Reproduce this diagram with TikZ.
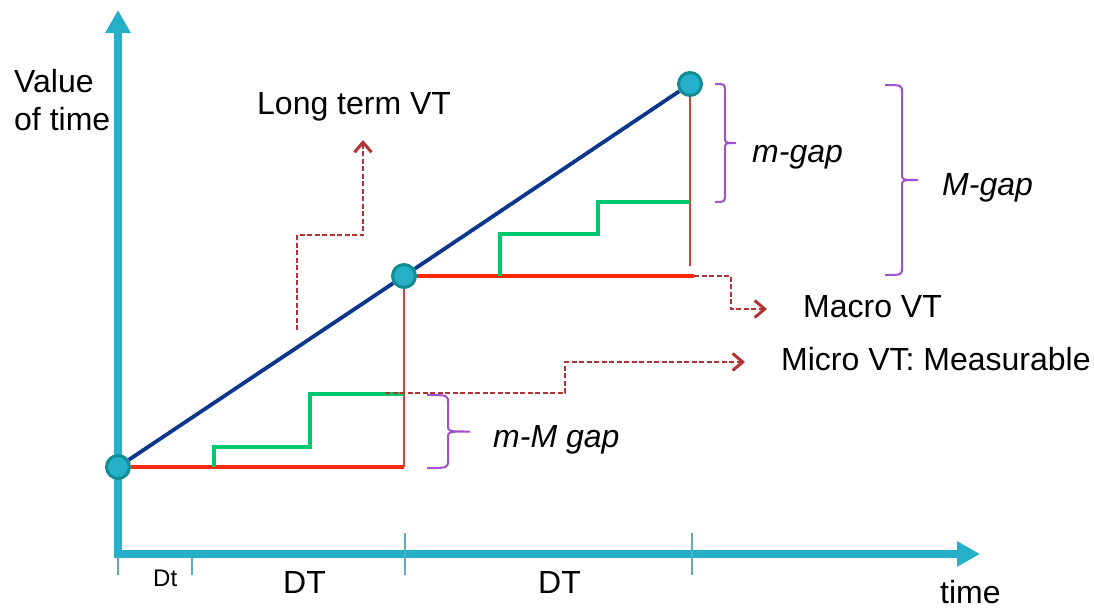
\documentclass[tikz,border=0pt]{standalone}
\usepackage{fontspec}
\setmainfont{Liberation Sans}
\usetikzlibrary{arrows.meta,calc}
\definecolor{axcol}{RGB}{37,175,200}
\definecolor{tickcol}{RGB}{95,170,190}
\definecolor{dotcol}{RGB}{35,176,200}
\definecolor{dotrim}{RGB}{20,140,150}
\definecolor{ltcol}{RGB}{10,55,140}
\definecolor{macol}{RGB}{255,40,10}
\definecolor{dropcol}{RGB}{205,70,50}
\definecolor{micol}{RGB}{0,200,110}
\definecolor{ptrcol}{RGB}{180,50,50}
\definecolor{gapcol}{RGB}{160,80,200}
\newcommand{\gapbrace}[5]{%
  \pgfmathsetmacro{\gbmid}{(#4+#5)/2}
  \draw[gap] (#1,#4) .. controls (#2,#4) .. ({#2},{#4+8}) -- ({#2},{\gbmid-6})
    .. controls (#2,\gbmid) .. (#3,\gbmid) .. controls (#2,\gbmid) .. ({#2},{\gbmid+6})
    -- ({#2},{#5-8}) .. controls (#2,#5) .. (#1,#5);}
\tikzset{
  axis/.style={line width=8pt, axcol, {Triangle[length=23pt,width=24pt]}-{Triangle[length=23pt,width=24pt]}},
  tickmark/.style={tickcol, line width=2pt},
  dot/.style={circle, fill=dotcol, draw=dotrim, line width=3pt, minimum size=23pt, inner sep=0pt},
  longvt/.style={ltcol, line width=3.8pt},
  macro/.style={macol, line width=4pt},
  dropline/.style={dropcol, line width=2pt},
  micro/.style={micol, line width=3.5pt},
  pointer/.style={ptrcol, line width=2.2pt, dash pattern=on 5pt off 2.5pt, -{Straight Barb[length=10pt,width=17pt,line width=3pt]}},
  gap/.style={gapcol, line width=2pt},
  lbl/.style={font=\fontsize{32}{38}\selectfont, inner sep=0pt, anchor=base west},
  ilbl/.style={lbl, font=\fontsize{32}{38}\selectfont\itshape},
}
\begin{document}
\begin{tikzpicture}[x=1pt, y=-1pt]
  \useasboundingbox (0,0) rectangle (1094,608);
  % axes
  \coordinate (O) at (118,554);
  \coordinate (ytip) at (118,10);
  \coordinate (xtip) at (980,554);
  \draw[axis] (ytip) -- (O) -- (xtip);
  \foreach \x/\yt in {118/557, 192/558, 405/533, 692/533} { \draw[tickmark] (\x,\yt) -- (\x,575); }
  % value points
  \node[dot] (p0) at (118,467) {};
  \node[dot] (p1) at (404,276) {};
  \node[dot] (p2) at (690,84) {};
  \draw[longvt] (p0) -- (p1) -- (p2);
  % macro steps
  \coordinate (m1) at (p0 -| p1);
  \coordinate (m2) at (694,276);
  \draw[macro] (p0) -- (m1);
  \draw[dropline] (m1) -- (p1);
  \draw[macro] (p1) -- (m2);
  \draw[dropline] (p2) -- (690,266);
  % micro steps
  \draw[micro] (214,467) -- (214,447) -- (310,447) -- (310,394) -- (404,394);
  \draw[micro] (500,276) -- (500,234) -- (598,234) -- (598,202) -- (690,202);
  % pointers
  \draw[pointer] (297,330) |- (363,235) -- (363,140);
  \draw[pointer] (m2) -| (731,309) -- (767,309);
  \draw[pointer] (385,393) -| (565,362) -- (745,362);
  % gaps
  \gapbrace{715}{725}{736}{84}{202}
  \gapbrace{885}{902}{918}{85}{275}
  \gapbrace{427}{448}{470}{395}{468}
  % labels
  \node[lbl, align=left, anchor=north west] (yl) at (14,69) {Value\\of time};
  \node[lbl] (ltl) at (257,114) {Long term VT};
  \node[ilbl] (mgl) at (752,162) {m-gap};
  \node[ilbl] (Mgl) at (942,195) {M-gap};
  \node[lbl] (mal) at (803,317) {Macro VT};
  \node[lbl] (mil) at (781,370) {Micro VT: Measurable};
  \node[ilbl] (mMl) at (493,447) {m-M gap};
  \node[lbl, font=\fontsize{24}{28}\selectfont] (dtl) at (153,586) {Dt};
  \node[lbl] (DTa) at (283,593) {DT};
  \node[lbl] (DTb) at (538,593) {DT};
  \node[lbl] (tl) at (940,603) {time};
\end{tikzpicture}
\end{document}
